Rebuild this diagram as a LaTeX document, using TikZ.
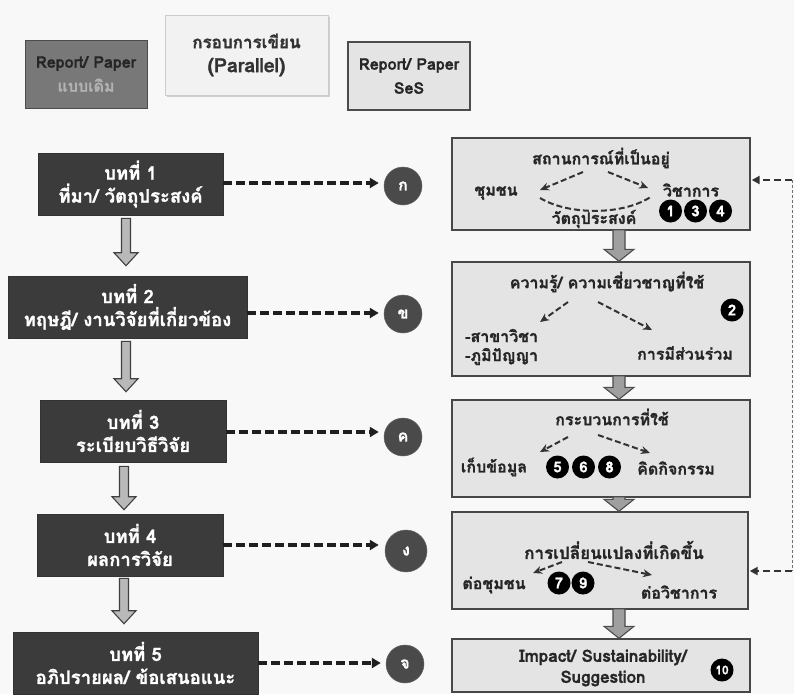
\documentclass[tikz,border=0pt]{standalone}
\usepackage{fontspec}
\setmainfont{Loma}[Script=Thai, BoldFont={Loma Bold}, BoldFeatures={FakeBold=1.2}]
\usetikzlibrary{calc,arrows.meta,shadows}
\definecolor{bgc}{HTML}{F8F8F8}
\definecolor{darkbox}{HTML}{3B3B3B}
\definecolor{rfill}{HTML}{E4E4E4}
\definecolor{hdrdark}{HTML}{787878}
\definecolor{hdrlight}{HTML}{F2F2F2}
\definecolor{circfill}{HTML}{4A4A4A}
\newcommand\blkarrow[9]{%
  \draw[#9] let \p1=(#1.south), \p2=(#2.north) in
    (#3pt-#4pt,\y1-#7pt) -- (#3pt+#4pt,\y1-#7pt) -- (#3pt+#4pt,\y2+#8pt+#6pt)
    -- (#3pt+#5pt,\y2+#8pt+#6pt) -- (#3pt,\y2+#8pt) -- (#3pt-#5pt,\y2+#8pt+#6pt)
    -- (#3pt-#4pt,\y2+#8pt+#6pt) -- cycle;}
\begin{document}
\begin{tikzpicture}[x=1pt,y=-1pt,
  leftbox/.style={fill=darkbox, draw=black!80, line width=0.6pt, text=white, align=center, inner sep=0pt,
    font=\bfseries\fontsize{18.5}{23}\selectfont, minimum height=62pt},
  rightbox/.style={fill=rfill, draw=black!72, line width=1.4pt, inner sep=0pt, minimum width=298pt},
  hdrbox/.style={align=center, inner sep=0pt, font=\bfseries\fontsize{16}{24}\selectfont},
  circ/.style={circle, fill=circfill, draw=black!60, line width=0.5pt, minimum size=38pt, inner sep=0pt,
    text=white, font=\bfseries\fontsize{16}{16}\selectfont},
  txt/.style={inner sep=0pt, font=\bfseries\fontsize{16}{19}\selectfont, text=black!85},
  numc/.style={circle, fill=black, inner sep=0pt, minimum size=23pt, text=white,
    font=\bfseries\fontsize{15}{15}\selectfont},
  dasharr/.style={draw=black!88, line width=3.2pt, dash pattern=on 9pt off 4pt, -{Triangle[length=9pt,width=10pt]}},
  inarr/.style={draw=black!80, line width=2pt, dash pattern=on 6pt off 3pt, -{Stealth[length=9pt,width=8pt]}},
  fbarr/.style={draw=black!80, line width=2.4pt, dash pattern=on 7pt off 4pt, -{Triangle[length=8pt,width=8pt]}},
  blkL/.style={fill=gray!55, draw=black!75, line width=1.1pt},
  blkR/.style={fill=gray!75, draw=black!70, line width=1.1pt}]
\useasboundingbox (0,0) rectangle (794,694);
\fill[bgc] (0,0) rectangle (794,694);

% headers
\node[hdrbox, fill=hdrdark, draw=black!70, line width=1pt, minimum width=122pt, minimum height=68pt] (h1) at (86,74)
  {\textcolor{black!85}{Report/ Paper}\\\textcolor{black!30}{แบบเดิม}};
\node[hdrbox, fill=hdrlight, draw=black!20, line width=0.8pt, minimum width=163pt, minimum height=80pt,
  text=black!80, drop shadow={shadow xshift=1.5pt, shadow yshift=-2pt, opacity=0.35}] (h2) at (246.5,55)
  {{\fontsize{17}{29}\selectfont กรอบการเขียน}\\{\fontsize{19.5}{29}\selectfont (Parallel)}};
\node[hdrbox, fill=rfill, draw=black!70, line width=1.2pt, minimum width=122pt, minimum height=68pt, text=black!85] (h3) at (409,76)
  {Report/ Paper\\SeS};

% left chapter boxes
\node[leftbox, minimum width=185pt] (L1) at (130.5,184) {บทที่ 1\\ที่มา/ วัตถุประสงค์};
\node[leftbox, minimum width=239pt] (L2) at (127.5,307) {บทที่ 2\\ทฤษฎี/ งานวิจัยที่เกี่ยวข้อง};
\node[leftbox, minimum width=186pt] (L3) at (133,431) {บทที่ 3\\ระเบียบวิธีวิจัย};
\node[leftbox, minimum width=186pt] (L4) at (130,545) {บทที่ 4\\ผลการวิจัย};
\node[leftbox, minimum width=245pt] (L5) at (135.5,663) {บทที่ 5\\อภิปรายผล/ ข้อเสนอแนะ};

% left block arrows
\blkarrow{L1}{L2}{126}{4.5}{12}{13}{3}{10}{blkL}
\blkarrow{L2}{L3}{126}{4.5}{12}{13}{3}{8}{blkL}
\blkarrow{L3}{L4}{124}{4.5}{12}{13}{4}{4}{blkL}
\blkarrow{L4}{L5}{124}{4.5}{12}{13}{2}{8}{blkL}

% circles
\node[circ] (c1) at (403,186) {ก};
\node[circ] (c2) at (403,314) {ข};
\node[circ] (c3) at (403,437) {ค};
\node[circ, minimum size=42pt] (c4) at (406,551) {ง};
\node[circ] (c5) at (405,664) {จ};

% dashed arrows
\draw[dasharr] (L1.east |- 0,183) -- ([xshift=-5pt]c1.west |- 0,183);
\draw[dasharr] (L2.east |- 0,313) -- ([xshift=-5pt]c2.west |- 0,313);
\draw[dasharr] (L3.east |- 0,432) -- ([xshift=-5pt]c3.west |- 0,432);
\draw[dasharr] (L4.east |- 0,545) -- ([xshift=-6pt]c4.west |- 0,545);
\draw[dasharr] (L5.east |- 0,663) -- ([xshift=-5pt]c5.west |- 0,663);

% right boxes
\node[rightbox, minimum height=92pt] (A) at (601,184) {};
\node[rightbox, minimum height=114pt] (B) at (601,319) {};
\node[rightbox, minimum height=97pt] (C) at (601,448.5) {};
\node[rightbox, minimum height=97pt, minimum width=296pt] (D) at (600,560.5) {};
\node[rightbox, minimum height=53pt] (E) at (601,665.5) {};

% right block arrows
\blkarrow{A}{B}{619}{6}{15}{12}{-1}{0}{blkR}
\blkarrow{B}{C}{619}{6}{15}{12}{-1}{0}{blkR}
\blkarrow{C}{D}{619}{6}{15}{12}{-1}{0}{blkR}
\blkarrow{D}{E}{619}{6}{15}{12}{-1}{0}{blkR}

% feedback
\coordinate (fbA) at (792,180);
\coordinate (fbD) at (792,571);
\draw[black!55, line width=0.8pt, dash pattern=on 3pt off 2pt] (fbA) -- (fbD);
\draw[fbarr] (fbA) -- ([xshift=1pt]A.east |- fbA);
\draw[fbarr] (fbD) -- ([xshift=1pt]D.east |- fbD);

% box A content
\node[txt] (a0) at (601,158) {สถานการณ์ที่เป็นอยู่};
\node[txt] (a1) at (496,193) {ชุมชน};
\node[txt] (a2) at (691,190) {วิชาการ};
\node[txt] (a3) at (594,219) {วัตถุประสงค์};
\node[numc] (n1) at (670.5,211) {1};
\node[numc] (n3) at (695.5,211) {3};
\node[numc] (n4) at (720.5,211) {4};
\draw[inarr] (583,172) -- (540,190);
\draw[inarr] (608,172) -- (648,188);
\draw[black!80, line width=2pt, dash pattern=on 6pt off 3pt] (540,198) .. controls (570,216) and (625,215) .. (652,196);

% box B content
\node[txt] (b0) at (607,282) {ความรู้/ ความเชี่ยวชาญที่ใช้};
\node[txt, anchor=west, align=left] (b1) at (465,347) {-สาขาวิชา\\-ภูมิปัญญา};
\node[txt] (b2) at (685,353) {การมีส่วนร่วม};
\node[numc] (n2) at (732,310) {2};
\draw[inarr] (568,302) -- (540,322);
\draw[inarr] (598,302) -- (652,330);

% box C content
\node[txt] (cc0) at (612,417) {กระบวนการที่ใช้};
\node[txt] (cc1) at (494,467) {เก็บข้อมูล};
\node[numc] (n5) at (557.5,467) {5};
\node[numc] (n6) at (583.5,467) {6};
\node[numc] (n8) at (609.5,467) {8};
\node[txt] (cc2) at (676,468) {คิดกิจกรรม};
\draw[inarr] (568,437) -- (540,452);
\draw[inarr] (598,435) -- (650,453);

% box D content
\node[txt, font=\bfseries\fontsize{17}{19}\selectfont] (d0) at (614,550) {การเปลี่ยนแปลงที่เกิดขึ้น};
\node[txt] (d1) at (494,585) {ต่อชุมชน};
\node[numc] (n7) at (559,583) {7};
\node[numc] (n9) at (583,583) {9};
\node[txt] (d2) at (679,592) {ต่อวิชาการ};
\draw[inarr] (562,562) -- (533,573);
\draw[inarr] (588,562) -- (652,575);

% box E content
\node[txt, align=center, font=\bfseries\fontsize{17}{21}\selectfont] (e0) at (603,668) {Impact/ Sustainability/\\Suggestion};
\node[numc, font=\bfseries\fontsize{12}{12}\selectfont] (n10) at (722,670) {10};
\end{tikzpicture}
\end{document}
